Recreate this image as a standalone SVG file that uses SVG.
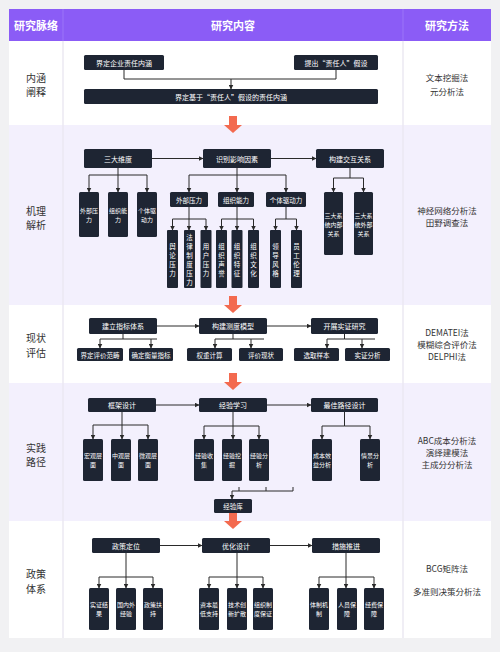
<svg xmlns="http://www.w3.org/2000/svg" width="500" height="652" viewBox="0 0 500 652">
<defs>
<style>
text{font-family:"Noto Sans CJK SC","Noto Sans",sans-serif;}
.hd{fill:#fff;font-size:11px;font-weight:bold;text-anchor:middle;dominant-baseline:central;}
.lc{fill:#333;font-size:10px;text-anchor:middle;dominant-baseline:central;}
.rc{fill:#333;font-size:8.5px;text-anchor:middle;dominant-baseline:central;}
.n rect{fill:#1e2533;}
.n text{fill:#fff;font-size:7px;text-anchor:middle;dominant-baseline:central;}
.s text{font-size:6.5px;}
.x text{font-size:6px;}
.c path{stroke:#2a2a2a;stroke-width:1;fill:none;}
.a{marker-end:url(#ah);}
.oa{fill:#f36a4f;}
</style>
<marker id="ah" markerUnits="userSpaceOnUse" markerWidth="5" markerHeight="5" refX="4.5" refY="2.5" viewBox="0 0 5 5" orient="auto"><path d="M0,0 L5,2.5 L0,5 z" fill="#2a2a2a"/></marker>
<path id="oarrow" d="M-4,0 H4 V9 H9 L0,17 L-9,9 H-4 Z"/>
</defs>
<rect width="500" height="652" fill="#f1f1f3"/>
<g id="table">
<rect x="9" y="9" width="482" height="32" fill="#8b5cf6"/>
<rect x="9" y="41" width="482" height="84" fill="#ffffff"/>
<rect x="9" y="125" width="482" height="180" fill="#f3f0fd"/>
<rect x="9" y="305" width="482" height="78" fill="#ffffff"/>
<rect x="9" y="383" width="482" height="138" fill="#f3f0fd"/>
<rect x="9" y="521" width="482" height="117" fill="#ffffff"/>
<line x1="63" y1="9" x2="63" y2="41" stroke="#9b74f8" stroke-width="1"/>
<line x1="403" y1="9" x2="403" y2="41" stroke="#9b74f8" stroke-width="1"/>
<line x1="63" y1="41" x2="63" y2="638" stroke="#ebe8f2" stroke-width="1.5"/>
<line x1="403" y1="41" x2="403" y2="638" stroke="#ebe8f2" stroke-width="1.5"/>
<text class="hd" x="36" y="25">研究脉络</text>
<text class="hd" x="233" y="25">研究内容</text>
<text class="hd" x="447" y="25">研究方法</text>
<text class="lc" x="36" y="77">内涵</text><text class="lc" x="36" y="91">阐释</text>
<text class="lc" x="36" y="210">机理</text><text class="lc" x="36" y="224">解析</text>
<text class="lc" x="36" y="337">现状</text><text class="lc" x="36" y="352">评估</text>
<text class="lc" x="36" y="447">实践</text><text class="lc" x="36" y="461">路径</text>
<text class="lc" x="36" y="573">政策</text><text class="lc" x="36" y="588">体系</text>
<text class="rc" x="447" y="77">文本挖掘法</text><text class="rc" x="447" y="91">元分析法</text>
<text class="rc" x="447" y="210">神经网络分析法</text><text class="rc" x="447" y="222">田野调查法</text>
<text class="rc" x="447" y="332">DEMATEI法</text><text class="rc" x="447" y="344">模糊综合评价法</text><text class="rc" x="447" y="356">DELPHI法</text>
<text class="rc" x="447" y="440">ABC成本分析法</text><text class="rc" x="447" y="452">演绎建模法</text><text class="rc" x="447" y="464">主成分分析法</text>
<text class="rc" x="447" y="568">BCG矩阵法</text><text class="rc" x="447" y="591">多准则决策分析法</text>
</g>
<g id="stage-arrows" class="oa">
<use href="#oarrow" x="233" y="116"/>
<use href="#oarrow" x="233" y="296"/>
<use href="#oarrow" x="233" y="373"/>
<use href="#oarrow" x="233" y="512"/>
</g>
<g id="connectors" class="c">
<path d="M124,70 V79 H336 V70"/>
<path class="a" d="M231,79 V89"/>
<path class="a" d="M152,158.5 H203"/>
<path class="a" d="M271,158.5 H316"/>
<path class="a" d="M118,168 V175 H89 V192"/>
<path class="a" d="M118,175 V192"/>
<path class="a" d="M118,175 H147 V192"/>
<path class="a" d="M237,168 V175 H189 V192"/>
<path class="a" d="M237,175 V192"/>
<path class="a" d="M237,175 H286 V192"/>
<path class="a" d="M189,207 V219 H172.5 V230"/>
<path class="a" d="M189,219 V230"/>
<path class="a" d="M189,219 H206 V230"/>
<path class="a" d="M237,207 V219 H221.5 V230"/>
<path class="a" d="M237,219 V230"/>
<path class="a" d="M237,219 H253.5 V230"/>
<path class="a" d="M286,207 V219 H275.5 V230"/>
<path class="a" d="M286,219 H296.5 V230"/>
<path class="a" d="M350,168 V178 H333.5 V192"/>
<path class="a" d="M350,178 H363.5 V192"/>
<path class="a" d="M157,326 H199"/>
<path class="a" d="M267,326 H311"/>
<path class="a" d="M123,334 V339 H100 V348"/>
<path d="M123,339 H157"/>
<path class="a" d="M151,339 V348"/>
<path class="a" d="M233,334 V339 H215 V348"/>
<path d="M233,339 H264"/>
<path class="a" d="M251,339 V348"/>
<path class="a" d="M344.5,334 V339 H327 V348"/>
<path d="M344.5,339 H375"/>
<path class="a" d="M362,339 V348"/>
<path class="a" d="M156,405 H199"/>
<path class="a" d="M267,405 H311"/>
<path class="a" d="M122,412 V425 H93 V439"/>
<path class="a" d="M122,425 V439"/>
<path class="a" d="M122,425 H148 V439"/>
<path class="a" d="M233,412 V426 H204 V439"/>
<path class="a" d="M233,426 V439"/>
<path class="a" d="M233,426 H259 V439"/>
<path class="a" d="M344.5,412 V426 H322 V439"/>
<path class="a" d="M344.5,426 H370 V439"/>
<path d="M239,487 V491"/>
<path d="M266,487 V491"/>
<path class="a" d="M293,487 V491 H232 V499"/>
<path class="a" d="M160,545.5 H202"/>
<path class="a" d="M270,545.5 H312"/>
<path class="a" d="M126,553 V577 H99 V588"/>
<path class="a" d="M126,577 V588"/>
<path class="a" d="M126,577 H153 V588"/>
<path class="a" d="M237,553 V577 H209 V588"/>
<path class="a" d="M237,577 V588"/>
<path class="a" d="M237,577 H263 V588"/>
<path class="a" d="M346,553 V577 H319 V588"/>
<path class="a" d="M346,577 V588"/>
<path class="a" d="M346,577 H374 V588"/>
</g>
<g id="n-jdqy" class="n"><rect x="84" y="55" width="80" height="15" rx="1.5"/><text x="124" y="62.5">界定企业责任内涵</text></g>
<g id="n-tczr" class="n"><rect x="294" y="55" width="84" height="15" rx="1.5"/><text x="336" y="62.5">提出“责任人”假设</text></g>
<g id="n-jdjy" class="n"><rect x="84" y="89" width="294" height="15" rx="1.5"/><text x="231" y="96.5">界定基于“责任人”假设的责任内涵</text></g>
<g id="n-sdwd" class="n"><rect x="84" y="149" width="68" height="19" rx="1.5"/><text x="118" y="158.5">三大维度</text></g>
<g id="n-sbyx" class="n"><rect x="203" y="149" width="68" height="19" rx="1.5"/><text x="237" y="158.5">识别影响因素</text></g>
<g id="n-gjjh" class="n"><rect x="316" y="149" width="68" height="19" rx="1.5"/><text x="350" y="158.5">构建交互关系</text></g>
<g id="n-wbyl1" class="n x"><rect x="79" y="192" width="20" height="45" rx="1.5"/><text x="89" y="210">外部压</text><text x="89" y="219">力</text></g>
<g id="n-zznl1" class="n x"><rect x="108" y="192" width="20" height="45" rx="1.5"/><text x="118" y="210">组织能</text><text x="118" y="219">力</text></g>
<g id="n-gtqd1" class="n x"><rect x="137" y="192" width="20" height="45" rx="1.5"/><text x="147" y="210">个体驱</text><text x="147" y="219">动力</text></g>
<g id="n-wbyl2" class="n s"><rect x="170" y="192" width="38" height="15" rx="1.5"/><text x="189" y="199.5">外部压力</text></g>
<g id="n-zznl2" class="n s"><rect x="218" y="192" width="36" height="15" rx="1.5"/><text x="236" y="199.5">组织能力</text></g>
<g id="n-gtqd2" class="n s"><rect x="266" y="192" width="40" height="15" rx="1.5"/><text x="286" y="199.5">个体驱动力</text></g>
<g id="n-ylyl" class="n s"><rect x="167" y="230" width="11" height="58" rx="1"/><text x="172.5" y="245.5">舆</text><text x="172.5" y="254.5">论</text><text x="172.5" y="263.5">压</text><text x="172.5" y="272.5">力</text></g>
<g id="n-flzd" class="n s"><rect x="184" y="230" width="11" height="58" rx="1"/><text x="189.5" y="236.5">法</text><text x="189.5" y="245.5">律</text><text x="189.5" y="254.5">制</text><text x="189.5" y="263.5">度</text><text x="189.5" y="272.5">压</text><text x="189.5" y="281.5">力</text></g>
<g id="n-yhyl" class="n s"><rect x="200.5" y="230" width="11" height="58" rx="1"/><text x="206" y="245.5">用</text><text x="206" y="254.5">户</text><text x="206" y="263.5">压</text><text x="206" y="272.5">力</text></g>
<g id="n-zzsy" class="n s"><rect x="216" y="230" width="11" height="58" rx="1"/><text x="221.5" y="245.5">组</text><text x="221.5" y="254.5">织</text><text x="221.5" y="263.5">声</text><text x="221.5" y="272.5">誉</text></g>
<g id="n-zztz" class="n s"><rect x="231.5" y="230" width="11" height="58" rx="1"/><text x="237" y="245.5">组</text><text x="237" y="254.5">织</text><text x="237" y="263.5">特</text><text x="237" y="272.5">征</text></g>
<g id="n-zzwh" class="n s"><rect x="248" y="230" width="11" height="58" rx="1"/><text x="253.5" y="245.5">组</text><text x="253.5" y="254.5">织</text><text x="253.5" y="263.5">文</text><text x="253.5" y="272.5">化</text></g>
<g id="n-ldfg" class="n s"><rect x="270" y="230" width="11" height="58" rx="1"/><text x="275.5" y="245.5">领</text><text x="275.5" y="254.5">导</text><text x="275.5" y="263.5">风</text><text x="275.5" y="272.5">格</text></g>
<g id="n-ygll" class="n s"><rect x="291" y="230" width="11" height="58" rx="1"/><text x="296.5" y="245.5">员</text><text x="296.5" y="254.5">工</text><text x="296.5" y="263.5">伦</text><text x="296.5" y="272.5">理</text></g>
<g id="n-nbgx" class="n x"><rect x="324" y="192" width="19" height="63" rx="1.5"/><text x="333.5" y="215">三大系</text><text x="333.5" y="224">统内部</text><text x="333.5" y="233">关系</text></g>
<g id="n-wbgx" class="n x"><rect x="354" y="192" width="19" height="63" rx="1.5"/><text x="363.5" y="215">三大系</text><text x="363.5" y="224">统外部</text><text x="363.5" y="233">关系</text></g>
<g id="n-jlzb" class="n"><rect x="89" y="318" width="68" height="16" rx="1.5"/><text x="123" y="326">建立指标体系</text></g>
<g id="n-gjcd" class="n"><rect x="199" y="318" width="68" height="16" rx="1.5"/><text x="233" y="326">构建测度模型</text></g>
<g id="n-kzsz" class="n"><rect x="311" y="318" width="67" height="16" rx="1.5"/><text x="344.5" y="326">开展实证研究</text></g>
<g id="n-jdpj" class="n s"><rect x="77" y="348" width="46" height="13" rx="1.5"/><text x="100" y="354.5">界定评价范畴</text></g>
<g id="n-qdhl" class="n s"><rect x="129" y="348" width="44" height="13" rx="1.5"/><text x="151" y="354.5">确定衡量指标</text></g>
<g id="n-qzjs" class="n s"><rect x="187" y="348" width="45" height="13" rx="1.5"/><text x="209.5" y="354.5">权重计算</text></g>
<g id="n-pjxz" class="n s"><rect x="239" y="348" width="44" height="13" rx="1.5"/><text x="261" y="354.5">评价现状</text></g>
<g id="n-xqyb" class="n s"><rect x="294" y="348" width="45" height="13" rx="1.5"/><text x="316.5" y="354.5">选取样本</text></g>
<g id="n-szfx" class="n s"><rect x="345" y="348" width="45" height="13" rx="1.5"/><text x="367.5" y="354.5">实证分析</text></g>
<g id="n-kjsj" class="n"><rect x="88" y="398" width="68" height="14" rx="1.5"/><text x="122" y="405">框架设计</text></g>
<g id="n-jyxx" class="n"><rect x="199" y="398" width="68" height="14" rx="1.5"/><text x="233" y="405">经验学习</text></g>
<g id="n-zjlj" class="n"><rect x="311" y="398" width="67" height="14" rx="1.5"/><text x="344.5" y="405">最佳路径设计</text></g>
<g id="n-hgcm" class="n x"><rect x="83" y="439" width="20" height="42" rx="1.5"/><text x="93" y="455.5">宏观层</text><text x="93" y="464.5">面</text></g>
<g id="n-zgcm" class="n x"><rect x="111" y="439" width="20" height="42" rx="1.5"/><text x="121" y="455.5">中观层</text><text x="121" y="464.5">面</text></g>
<g id="n-wgcm" class="n x"><rect x="138" y="439" width="20" height="42" rx="1.5"/><text x="148" y="455.5">微观层</text><text x="148" y="464.5">面</text></g>
<g id="n-jysj" class="n x"><rect x="194" y="439" width="20" height="42" rx="1.5"/><text x="204" y="455.5">经验收</text><text x="204" y="464.5">集</text></g>
<g id="n-jywj" class="n x"><rect x="222" y="439" width="20" height="42" rx="1.5"/><text x="232" y="455.5">经验挖</text><text x="232" y="464.5">掘</text></g>
<g id="n-jyfx" class="n x"><rect x="249" y="439" width="20" height="42" rx="1.5"/><text x="259" y="455.5">经验分</text><text x="259" y="464.5">析</text></g>
<g id="n-cbxy" class="n x"><rect x="312" y="439" width="20" height="42" rx="1.5"/><text x="322" y="455.5">成本效</text><text x="322" y="464.5">益分析</text></g>
<g id="n-qjfx" class="n x"><rect x="360" y="439" width="20" height="42" rx="1.5"/><text x="370" y="455.5">情景分</text><text x="370" y="464.5">析</text></g>
<g id="n-jyk" class="n s"><rect x="214" y="499" width="38" height="14" rx="1.5"/><text x="233" y="506">经验库</text></g>
<g id="n-zcdw" class="n"><rect x="92" y="538" width="68" height="15" rx="1.5"/><text x="126" y="545.5">政策定位</text></g>
<g id="n-yhsj" class="n"><rect x="202" y="538" width="68" height="15" rx="1.5"/><text x="236" y="545.5">优化设计</text></g>
<g id="n-cstj" class="n"><rect x="312" y="538" width="68" height="15" rx="1.5"/><text x="346" y="545.5">措施推进</text></g>
<g id="n-szjg" class="n x"><rect x="89" y="588" width="20" height="42" rx="1.5"/><text x="99" y="604.5">实证结</text><text x="99" y="613.5">果</text></g>
<g id="n-gnwjy" class="n x"><rect x="116" y="588" width="20" height="42" rx="1.5"/><text x="126" y="604.5">国内外</text><text x="126" y="613.5">经验</text></g>
<g id="n-zcfc" class="n x"><rect x="143" y="588" width="20" height="42" rx="1.5"/><text x="153" y="604.5">政策扶</text><text x="153" y="613.5">持</text></g>
<g id="n-zbzc" class="n x"><rect x="199" y="588" width="20" height="42" rx="1.5"/><text x="209" y="604.5">资本最</text><text x="209" y="613.5">低支持</text></g>
<g id="n-jscx" class="n x"><rect x="227" y="588" width="20" height="42" rx="1.5"/><text x="237" y="604.5">技术创</text><text x="237" y="613.5">新扩散</text></g>
<g id="n-zzzd" class="n x"><rect x="253" y="588" width="20" height="42" rx="1.5"/><text x="263" y="604.5">组织制</text><text x="263" y="613.5">度保证</text></g>
<g id="n-tzjz" class="n x"><rect x="309" y="588" width="20" height="42" rx="1.5"/><text x="319" y="604.5">体制机</text><text x="319" y="613.5">制</text></g>
<g id="n-rybz" class="n x"><rect x="337" y="588" width="20" height="42" rx="1.5"/><text x="347" y="604.5">人员保</text><text x="347" y="613.5">障</text></g>
<g id="n-jfbz" class="n x"><rect x="364" y="588" width="20" height="42" rx="1.5"/><text x="374" y="604.5">经费保</text><text x="374" y="613.5">障</text></g>
</svg>
